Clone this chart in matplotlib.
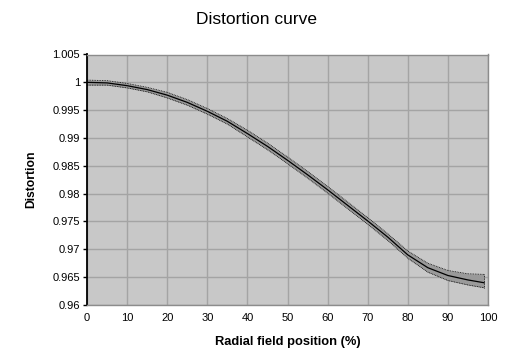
import matplotlib
matplotlib.use("Agg")
import matplotlib.pyplot as plt
from matplotlib.ticker import MultipleLocator, FuncFormatter

# Data
field = [0, 5, 10, 15, 20, 25, 30, 35, 40, 45, 50, 55, 60, 65, 70, 75, 80, 85, 90, 95, 99]
distortion = [1.0000, 0.9999, 0.9994, 0.9987, 0.9977, 0.9964, 0.9948, 0.9930, 0.9908,
              0.9885, 0.9860, 0.9834, 0.9807, 0.9779, 0.9751, 0.9722, 0.9690, 0.9667,
              0.9653, 0.9645, 0.9640]
upper = [1.0004, 1.0003, 0.9998, 0.9991, 0.9982, 0.9969, 0.9953, 0.9935, 0.9914, 0.9891,
         0.9866, 0.9840, 0.9813, 0.9785, 0.9757, 0.9728, 0.9697, 0.9675, 0.9662, 0.9656, 0.9655]
lower = [0.9995, 0.9995, 0.9990, 0.9983, 0.9972, 0.9959, 0.9943, 0.9925, 0.9902, 0.9879,
         0.9854, 0.9828, 0.9801, 0.9773, 0.9745, 0.9716, 0.9684, 0.9659, 0.9644, 0.9636, 0.9631]

plt.rcParams['font.family'] = ['Liberation Sans', 'DejaVu Sans']

fig = plt.figure(figsize=(5.26, 3.54), dpi=100)
ax = fig.add_axes([87/526, 1-305/354, (488-87)/526, (305-54.5)/354])
ax.set_facecolor('#C8C8C8')

ax.fill_between(field, lower, upper, color='#9A9A9A', lw=0, zorder=2)
ax.plot(field, upper, color='black', lw=0.6, ls=(0, (1, 1)), zorder=3)
ax.plot(field, lower, color='black', lw=0.6, ls=(0, (1, 1)), zorder=3)
ax.plot([field[-1], field[-1]], [lower[-1], upper[-1]], color='black', lw=0.6, ls=(0, (1, 1)), zorder=3)
ax.plot(field, distortion, color='black', lw=0.9, zorder=4)

ax.set_xlim(0, 100)
ax.set_ylim(0.96, 1.005)
ax.xaxis.set_major_locator(MultipleLocator(10))
ax.yaxis.set_major_locator(MultipleLocator(0.005))

def yfmt(v, pos):
    s = f"{v:.3f}".rstrip('0').rstrip('.')
    return s
ax.yaxis.set_major_formatter(FuncFormatter(yfmt))

ax.grid(True, color='#A4A4A4', lw=1.0, zorder=1)
ax.set_axisbelow(True)

for side in ['top', 'right', 'bottom']:
    ax.spines[side].set_color('#8C8C8C')
    ax.spines[side].set_linewidth(1.0)
ax.spines['left'].set_color('black')
ax.spines['left'].set_linewidth(1.3)

ax.tick_params(axis='y', direction='out', length=3, width=1, color='black', labelsize=8, pad=2)
ax.tick_params(axis='x', length=0, labelsize=8, pad=6)

ax.set_xlabel('Radial field position (%)', fontsize=9.3, fontweight='bold', labelpad=9)
ax.set_ylabel('Distortion', fontsize=8.7, fontweight='bold', labelpad=11)

fig.text(256/526, 1-20/354, 'Distortion curve', ha='center', va='center', fontsize=12.5)

fig.savefig('out.png', dpi=100, facecolor='white')
